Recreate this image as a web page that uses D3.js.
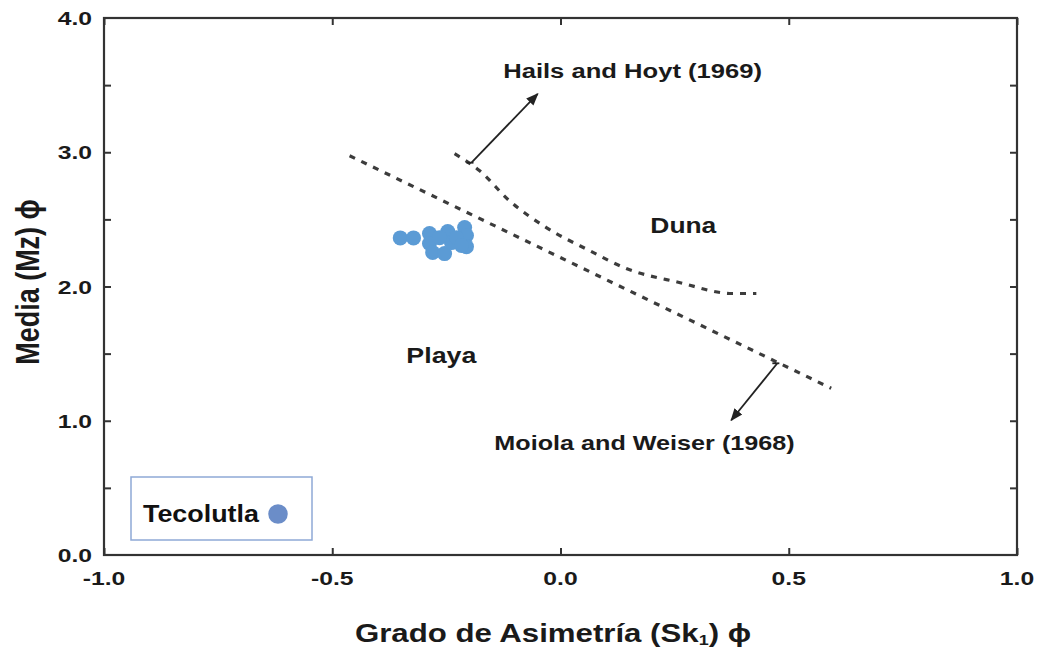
<!DOCTYPE html>
<html><head><meta charset="utf-8">
<script src="https://cdn.jsdelivr.net/npm/d3@7"></script>
<style>
html,body{margin:0;padding:0;background:#fff;}
svg text{font-family:"Liberation Sans",Arial,sans-serif;}
</style></head>
<body>
<svg id="c" width="1037" height="651"></svg>
<script>
// ---- data ----
const xTicks = [-1.0, -0.5, 0.0, 0.5, 1.0];
const yTicks = [0.0, 1.0, 2.0, 3.0, 4.0];
const minorTicksX = [-1.0, -0.5, 0.0, 0.5, 1.0];
const minorTicksY = [0.5, 1.0, 1.5, 2.0, 2.5, 3.0, 3.5];
const sampleSk = [-0.351, -0.322, -0.287, -0.287, -0.280, -0.254, -0.247, -0.239, -0.210, -0.206, -0.206, -0.228, -0.265, -0.217];
const sampleMz = [2.362, 2.362, 2.394, 2.320, 2.253, 2.245, 2.409, 2.327, 2.439, 2.379, 2.297, 2.364, 2.364, 2.305];
const moiolaSk = [-0.462, 0.593];
const moiolaMz = [2.974, 1.242];
const hailsSk = [-0.232, -0.177, -0.112, -0.031, 0.063, 0.144, 0.260, 0.376, 0.429];
const hailsMz = [2.989, 2.862, 2.639, 2.439, 2.268, 2.134, 2.030, 1.948, 1.948];
const arrowHails = [[-0.195, 2.922], [-0.050, 3.435]];
const arrowMoiola = [[0.475, 1.428], [0.374, 1.004]];
const legendLabel = "Tecolutla";
const xTitle = "Grado de Asimetría ";
const yTitle = "Media (Mz) ϕ";

// ---- layout ----
const svg = d3.select("#c");
const L = 104, R = 1017, T = 18, B = 555;
const x = d3.scaleLinear().domain([-1, 1]).range([L, R]);
const y = d3.scaleLinear().domain([0, 4]).range([B, T]);
const SX = 1.25; // horizontal stretch of the source image text

function stxt(px, py, str, size, anchor, k) {
  return svg.append("text")
    .attr("transform", `translate(${px},${py}) scale(${k||SX},1)`)
    .attr("text-anchor", anchor || "middle")
    .attr("font-size", size).attr("font-weight", "bold").attr("fill", "#1a1a1a")
    .text(str);
}

// defs arrowhead
svg.append("defs").append("marker")
  .attr("id", "ah").attr("viewBox", "0 0 10 10").attr("refX", 9).attr("refY", 5)
  .attr("markerWidth", 7).attr("markerHeight", 7).attr("orient", "auto")
  .append("path").attr("d", "M0,1 L10,5 L0,9 Z").attr("fill", "#222");

// frame
svg.append("rect").attr("x", L).attr("y", T).attr("width", R - L).attr("height", B - T)
  .attr("fill", "none").attr("stroke", "#333").attr("stroke-width", 2.2);

// axes via d3 axis generators (ticks inward)
const tickLen = 7;
const gB = svg.append("g").attr("transform", `translate(0,${B})`)
  .call(d3.axisTop(x).tickValues(minorTicksX).tickSize(tickLen).tickFormat(""));
const gT = svg.append("g").attr("transform", `translate(0,${T})`)
  .call(d3.axisBottom(x).tickValues(minorTicksX).tickSize(tickLen).tickFormat(""));
const gL = svg.append("g").attr("transform", `translate(${L},0)`)
  .call(d3.axisRight(y).tickValues(minorTicksY).tickSize(tickLen).tickFormat(""));
const gR = svg.append("g").attr("transform", `translate(${R},0)`)
  .call(d3.axisLeft(y).tickValues(minorTicksY).tickSize(tickLen).tickFormat(""));
[gB, gT, gL, gR].forEach(g => {
  g.select(".domain").remove();
  g.selectAll("line").attr("stroke", "#333").attr("stroke-width", 2);
});

// tick labels
xTicks.forEach(v => stxt(x(v), B + 30, d3.format(".1f")(v).replace("−", "-"), 19, "middle", 1.3));
yTicks.forEach(v => stxt(92, y(v) + 7, d3.format(".1f")(v), 19, "end", 1.3));

// axis titles
const xt = stxt(553, 642, xTitle, 26, "middle", 1.2);
xt.append("tspan").text("(Sk");
xt.append("tspan").attr("font-size", 15).attr("dy", 3).text("1");
xt.append("tspan").attr("dy", -3).text(") ϕ");
svg.append("text")
  .attr("transform", `translate(39,${282}) rotate(-90) scale(1,1.2)`)
  .attr("text-anchor", "middle").attr("font-size", 27).attr("font-weight", "bold")
  .attr("fill", "#1a1a1a").text(yTitle);

// boundary lines
const line = d3.line().x(d => x(d[0])).y(d => y(d[1]));
const lineC = d3.line().x(d => x(d[0])).y(d => y(d[1])).curve(d3.curveMonotoneX);
svg.append("path").attr("d", line(d3.zip(moiolaSk, moiolaMz)))
  .attr("fill", "none").attr("stroke", "#3c3c3c").attr("stroke-width", 3.2)
  .attr("stroke-dasharray", "6,7");
svg.append("path").attr("d", lineC(d3.zip(hailsSk, hailsMz)))
  .attr("fill", "none").attr("stroke", "#3c3c3c").attr("stroke-width", 3.2)
  .attr("stroke-dasharray", "6,7");

// arrows
[arrowHails, arrowMoiola].forEach(a => {
  svg.append("path").attr("d", line(a)).attr("fill", "none")
    .attr("stroke", "#222").attr("stroke-width", 1.8).attr("marker-end", "url(#ah)");
  svg.append("line")
    .attr("x1", x(a[0][0]) - 5).attr("x2", x(a[0][0]) + 2)
    .attr("y1", y(a[0][1])).attr("y2", y(a[0][1]))
    .attr("stroke", "#222").attr("stroke-width", 1.8);
});

// annotations
stxt(x(0.158), y(3.55), "Hails and Hoyt (1969)", 20, "middle", 1.28);
stxt(x(0.184), y(0.785), "Moiola and Weiser (1968)", 20, "middle", 1.26);
stxt(x(0.269), y(2.40), "Duna", 22, "middle", 1.2);
stxt(x(-0.261), y(1.43), "Playa", 22, "middle", 1.22);

// points
svg.append("g").selectAll("circle").data(d3.zip(sampleSk, sampleMz)).join("circle")
  .attr("cx", d => x(d[0])).attr("cy", d => y(d[1])).attr("r", 7.5)
  .attr("fill", "#5b9bd5");

// legend
svg.append("rect").attr("x", 131).attr("y", 477).attr("width", 181).attr("height", 63)
  .attr("fill", "#fff").attr("stroke", "#8fa9d6").attr("stroke-width", 1.5);
stxt(143, 522, legendLabel, 24, "start", 1.12).attr("fill", "#111");
svg.append("path").attr("d", d3.symbol().type(d3.symbolCircle).size(300)())
  .attr("transform", "translate(278,514)").attr("fill", "#6b8dc8");
</script>
</body></html>
